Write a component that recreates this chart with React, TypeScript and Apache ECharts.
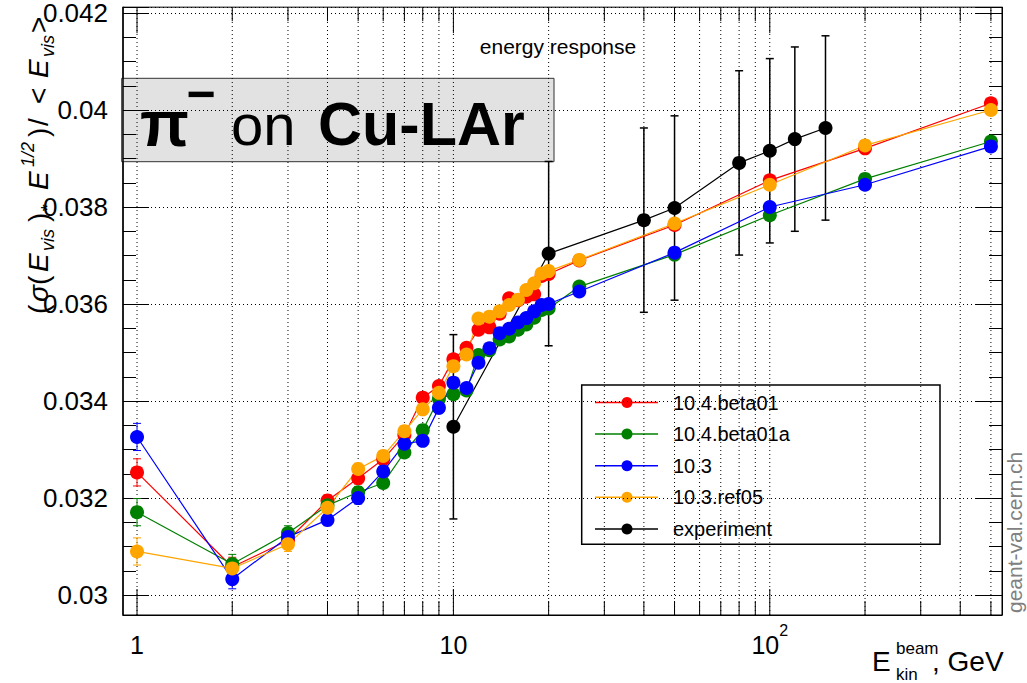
import React, { useEffect, useRef } from 'react';
import * as echarts from 'echarts';

const FONT = 'Liberation Sans, Arial, Helvetica, sans-serif';

// beam energies (GeV) of the simulated points
const energies = [1, 2, 3, 4, 5, 6, 7, 8, 9, 10, 11, 12, 13, 14, 15, 16, 17, 18, 19, 20, 25, 50, 100, 200, 500];

const beta01 = [0.03253, 0.03058, 0.03113, 0.03195, 0.03241, 0.0328, 0.0333, 0.03407, 0.03431, 0.03486, 0.0351, 0.03547, 0.03552, 0.0358, 0.03612, 0.03608, 0.03615, 0.0362, 0.03658, 0.03662, 0.0369, 0.03763, 0.03855, 0.03921, 0.04014];
const beta01a = [0.03171, 0.03064, 0.03128, 0.03185, 0.03212, 0.03231, 0.03294, 0.0334, 0.03405, 0.03414, 0.03422, 0.03495, 0.03505, 0.03527, 0.03533, 0.03547, 0.03558, 0.03572, 0.03588, 0.03591, 0.03636, 0.03702, 0.03783, 0.03858, 0.03935];
const v103 = [0.03326, 0.03033, 0.0312, 0.03155, 0.032, 0.03255, 0.03312, 0.03318, 0.03386, 0.03438, 0.03427, 0.03479, 0.03509, 0.0354, 0.03549, 0.03562, 0.03571, 0.03585, 0.03598, 0.036, 0.03626, 0.03706, 0.038, 0.03846, 0.03925];
const ref05 = [0.0309, 0.03055, 0.03105, 0.0318, 0.0326, 0.03287, 0.03338, 0.03383, 0.03417, 0.03472, 0.03496, 0.0357, 0.03574, 0.03585, 0.03598, 0.03609, 0.03629, 0.03643, 0.03663, 0.03668, 0.03691, 0.03766, 0.03846, 0.03927, 0.04];
const simErr = [0.00028, 0.0002, 0.00015, 0.00012, 0.00012, 0.0001, 0.0001, 0.0001, 0.0001, 0.0001, 0.0001, 0.0001, 0.0001, 0.0001, 0.0001, 0.0001, 0.0001, 0.0001, 0.0001, 0.0001, 0.00008, 0.00008, 0.00008, 0.00008, 0.00008];

const expEnergies = [10, 20, 40, 50, 80, 100, 120, 150];
const expValues = [0.03347, 0.03704, 0.03773, 0.03798, 0.03891, 0.03916, 0.0394, 0.03963];
const expErr = [0.0019, 0.0019, 0.0019, 0.0019, 0.0019, 0.0019, 0.0019, 0.0019];

const seriesNames = ['10.4.beta01', '10.4.beta01a', '10.3', '10.3.ref05', 'experiment'];
const seriesColors = ['#ff0000', '#008000', '#0000ff', '#ffa500', '#000000'];

// log-grid positions of the x axis
const gridX = [1, 2, 3, 4, 5, 6, 7, 8, 9, 10, 20, 30, 40, 50, 60, 70, 80, 90, 100, 200, 300, 400, 500];
const majorX = [1, 10, 100];

// y-axis title pieces: [text, kind] (kind: n normal, i italic, sub, sup)
const yTitlePieces: [string, string][] = [
  ['(', 'n'], ['σ', 'i'], ['(', 'n'], ['E', 'i'], ['vis', 'sub'], [')', 'n'], ['*', 'sub'],
  ['E', 'i'], ['1/2', 'sup'], [')', 'n'], ['/', 'n'], ['<', 'n'], ['E', 'i'], ['vis', 'sub'], ['>', 'n'],
];

const Y_MIN = 0.02959;
const Y_MAX = 0.04212;
const X_MIN = 0.903;
const X_MAX = 542;

function errRender(color: string, capHalf: number, lw: number) {
  return (params: any, api: any) => {
    const x = api.value(0);
    const y = api.value(1);
    const e = api.value(2);
    const hi = api.coord([x, y + e]);
    const lo = api.coord([x, y - e]);
    const style = { stroke: color, lineWidth: lw };
    return {
      type: 'group',
      children: [
        { type: 'line', shape: { x1: hi[0], y1: hi[1], x2: lo[0], y2: lo[1] }, style },
        { type: 'line', shape: { x1: hi[0] - capHalf, y1: hi[1], x2: hi[0] + capHalf, y2: hi[1] }, style },
        { type: 'line', shape: { x1: lo[0] - capHalf, y1: lo[1], x2: lo[0] + capHalf, y2: lo[1] }, style },
      ],
    };
  };
}

function gridRender(params: any, api: any) {
  const e = api.value(0);
  const p0 = api.coord([e, Y_MIN]);
  const p1 = api.coord([e, Y_MAX]);
  const len = majorX.includes(e) ? 26 : 14;
  const tickStyle = { stroke: '#000', lineWidth: 1 };
  return {
    type: 'group',
    children: [
      { type: 'line', shape: { x1: p0[0], y1: p0[1], x2: p1[0], y2: p1[1] }, style: { stroke: '#000', lineWidth: 1, lineDash: [1, 3] } },
      { type: 'line', shape: { x1: p0[0], y1: p0[1], x2: p0[0], y2: p0[1] - len }, style: tickStyle },
      { type: 'line', shape: { x1: p1[0], y1: p1[1], x2: p1[0], y2: p1[1] + len }, style: tickStyle },
    ],
  };
}

function xLabel(v: number) {
  const l = Math.log10(v);
  const r = Math.round(l);
  if (Math.abs(l - r) > 1e-6) return '';
  if (r === 0) return '{a|1}';
  if (r === 1) return '{a|10}';
  if (r === 2) return '{a|10}{s|2}';
  return '';
}

export default function App() {
  const ref = useRef<HTMLDivElement>(null);

  useEffect(() => {
    if (!ref.current) return;
    const chart = echarts.init(ref.current, null, { renderer: 'svg' });

    const simSets = [beta01, beta01a, v103, ref05];
    const series: any[] = [
      {
        type: 'custom',
        name: 'grid',
        silent: true,
        renderItem: gridRender,
        data: gridX.map((e) => [e, Y_MIN]),
        encode: { x: 0, y: 1 },
      },
    ];
    simSets.forEach((vals, i) => {
      series.push({
        type: 'custom',
        name: seriesNames[i] + ' errors',
        silent: true,
        renderItem: errRender(seriesColors[i], 4, 1),
        data: energies.map((e, j) => [e, vals[j], simErr[j]]),
        encode: { x: 0, y: 1 },
      });
      series.push({
        type: 'line',
        name: seriesNames[i],
        data: energies.map((e, j) => [e, vals[j]]),
        symbol: 'circle',
        symbolSize: 14,
        showSymbol: true,
        lineStyle: { color: seriesColors[i], width: 1.2 },
        itemStyle: { color: seriesColors[i] },
      });
    });
    series.push({
      type: 'custom',
      name: 'experiment errors',
      silent: true,
      renderItem: errRender('#000', 4, 1.5),
      data: expEnergies.map((e, j) => [e, expValues[j], expErr[j]]),
      encode: { x: 0, y: 1 },
    });
    series.push({
      type: 'line',
      name: 'experiment',
      data: expEnergies.map((e, j) => [e, expValues[j]]),
      symbol: 'circle',
      symbolSize: 14,
      showSymbol: true,
      lineStyle: { color: '#000', width: 1.2 },
      itemStyle: { color: '#000' },
    });

    const legendChildren: any[] = [
      {
        type: 'rect',
        shape: { x: 581.7, y: 385, width: 358.3, height: 159.3 },
        style: { fill: '#fff', stroke: '#000', lineWidth: 1.5 },
      },
    ];
    seriesNames.forEach((name, i) => {
      const y = 402.5 + i * 31.6;
      legendChildren.push(
        { type: 'line', shape: { x1: 595, y1: y, x2: 658, y2: y }, style: { stroke: seriesColors[i], lineWidth: 1.5 } },
        { type: 'circle', shape: { cx: 627, cy: y, r: 5.5 }, style: { fill: seriesColors[i] } },
        {
          type: 'text',
          x: 673,
          y,
          style: { text: name, fontSize: 20, fontFamily: FONT, fill: '#000', align: 'left', verticalAlign: 'middle' },
        }
      );
    });

    // y title, laid out along the rotated baseline piece by piece
    const yTitleStarts = [4, 16, 33, 46, 67, 96, 106, 128, 151, 181, 192, 214, 240, 261, 285];
    const yTitleChildren = yTitlePieces.map(([t, kind], i) => {
      const small = kind === 'sub' || kind === 'sup';
      return {
        type: 'text',
        x: yTitleStarts[i],
        y: kind === 'sub' ? 10 : kind === 'sup' ? -10 : 0,
        style: {
          text: t,
          fontSize: small ? 18 : 28,
          fontStyle: kind === 'n' ? 'normal' : 'italic',
          fontFamily: FONT,
          fill: '#000',
          align: 'left',
          verticalAlign: 'middle',
        },
      };
    });

    const option: any = {
      animation: false,
      backgroundColor: '#fff',
      grid: { left: 123, right: 25, top: 4, bottom: 68, show: true, borderColor: '#000', borderWidth: 1 },
      xAxis: {
        type: 'log',
        logBase: 10,
        min: X_MIN,
        max: X_MAX,
        splitNumber: 3,
        axisLine: { show: true, lineStyle: { color: '#000', width: 1 } },
        axisTick: { show: false },
        splitLine: { show: false },
        axisLabel: {
          show: true,
          showMinLabel: false,
          showMaxLabel: false,
          margin: 7,
          formatter: xLabel,
          rich: {
            a: { fontSize: 25, fontFamily: FONT, color: '#000', lineHeight: 46 },
            s: { fontSize: 16, fontFamily: FONT, color: '#000', verticalAlign: 'top' },
          },
        },
      },
      yAxis: [
        {
          type: 'value',
          min: Y_MIN,
          max: Y_MAX,
          splitNumber: 6,
          axisLine: { show: true, lineStyle: { color: '#000', width: 1.5 } },
          axisTick: { show: true, inside: true, length: 26, lineStyle: { color: '#000' } },
          minorTick: { show: true, splitNumber: 4, length: 13, lineStyle: { color: '#000' } },
          splitLine: { show: true, lineStyle: { color: '#000', width: 1, type: [1, 3] } },
          axisLabel: {
            show: true,
            showMinLabel: false,
            showMaxLabel: false,
            margin: 15,
            fontSize: 26,
            fontFamily: FONT,
            color: '#000',
            formatter: (v: number) => String(+v.toFixed(4)),
          },
        },
        {
          type: 'value',
          position: 'right',
          min: Y_MIN,
          max: Y_MAX,
          splitNumber: 6,
          axisLine: { show: true, lineStyle: { color: '#000', width: 1 } },
          axisTick: { show: true, inside: true, length: 26, lineStyle: { color: '#000' } },
          minorTick: { show: true, splitNumber: 4, length: 13, lineStyle: { color: '#000' } },
          splitLine: { show: false },
          axisLabel: { show: false },
        },
      ],
      series,
      graphic: [
        {
          type: 'text',
          z: 100,
          x: 558,
          y: 46,
          style: { text: 'energy response', fontSize: 21, fontFamily: FONT, fill: '#000', align: 'center', verticalAlign: 'middle' },
        },
        {
          type: 'group',
          z: 100,
          children: [
            {
              type: 'rect',
              shape: { x: 121.7, y: 78.3, width: 432.3, height: 83.4 },
              style: { fill: '#e2e2e2', stroke: '#333', lineWidth: 1 },
            },
            {
              type: 'text',
              x: 140,
              y: 124,
              style: { text: 'π', fontSize: 64, fontWeight: 'bold', fontFamily: FONT, fill: '#000', align: 'left', verticalAlign: 'middle' },
            },
            {
              type: 'text',
              x: 201,
              y: 94,
              style: { text: '−', fontSize: 50, fontWeight: 'bold', fontFamily: FONT, fill: '#000', align: 'center', verticalAlign: 'middle' },
            },
            {
              type: 'text',
              x: 231,
              y: 124,
              style: { text: 'on', fontSize: 58, fontFamily: FONT, fill: '#000', align: 'left', verticalAlign: 'middle' },
            },
            {
              type: 'text',
              x: 318,
              y: 124,
              style: { text: 'Cu-LAr', fontSize: 61, fontWeight: 'bold', fontFamily: FONT, fill: '#000', align: 'left', verticalAlign: 'middle' },
            },
          ],
        },
        { type: 'group', z: 100, children: legendChildren },
        {
          type: 'group',
          z: 100,
          x: 38,
          y: 318,
          rotation: Math.PI / 2,
          children: yTitleChildren,
        },
        {
          type: 'text',
          z: 100,
          x: 872,
          y: 661,
          style: { text: 'E', fontSize: 28, fontFamily: FONT, fill: '#000', align: 'left', verticalAlign: 'middle' },
        },
        {
          type: 'text',
          z: 100,
          x: 896,
          y: 648,
          style: { text: 'beam', fontSize: 17, fontFamily: FONT, fill: '#000', align: 'left', verticalAlign: 'middle' },
        },
        {
          type: 'text',
          z: 100,
          x: 896,
          y: 674,
          style: { text: 'kin', fontSize: 17, fontFamily: FONT, fill: '#000', align: 'left', verticalAlign: 'middle' },
        },
        {
          type: 'text',
          z: 100,
          x: 932,
          y: 661,
          style: { text: ', GeV', fontSize: 28, fontFamily: FONT, fill: '#000', align: 'left', verticalAlign: 'middle' },
        },
        {
          type: 'text',
          z: 100,
          x: 1014,
          y: 613,
          rotation: Math.PI / 2,
          style: { text: 'geant-val.cern.ch', fontSize: 21, fontFamily: FONT, fill: '#808080', align: 'left', verticalAlign: 'middle' },
        },
      ],
    };

    chart.setOption(option);
    return () => chart.dispose();
  }, []);

  return (
    <div
      ref={ref}
      style={{ position: 'fixed', left: 0, top: 0, width: 1027, height: 683, background: '#fff' }}
    />
  );
}
